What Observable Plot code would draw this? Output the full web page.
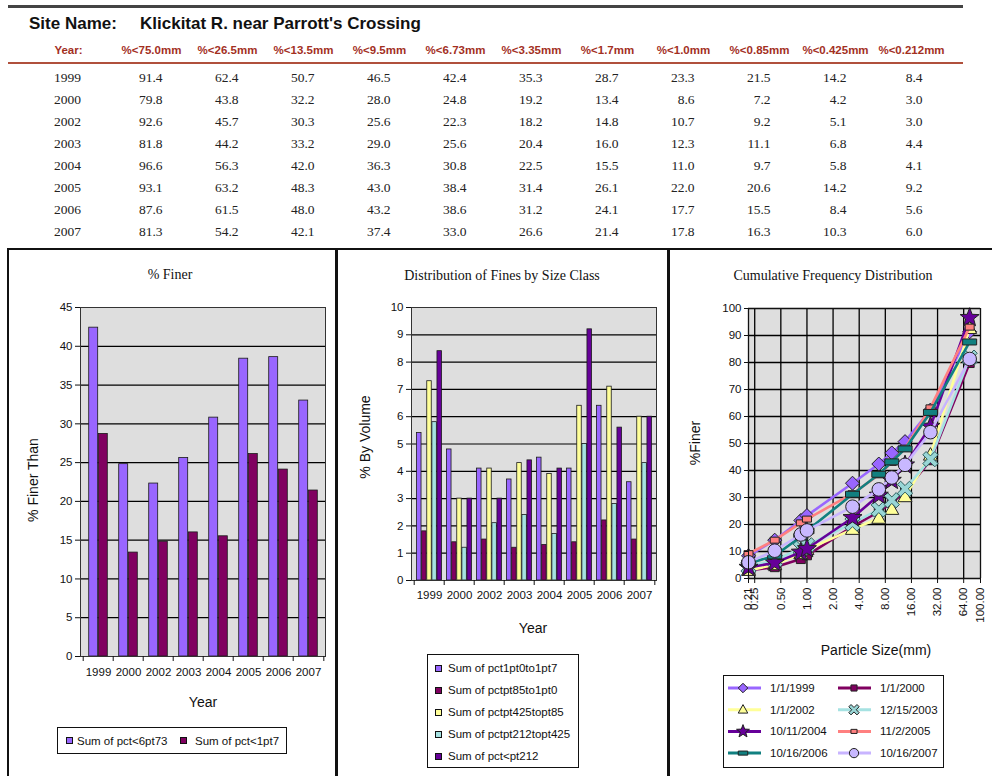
<!DOCTYPE html>
<html>
<head>
<meta charset="utf-8">
<script src="https://cdn.jsdelivr.net/npm/d3@7"></script>
<script src="https://cdn.jsdelivr.net/npm/@observablehq/plot@0.6"></script>
<style>
  html, body { margin: 0; padding: 0; background: #fff; }
  #page { position: relative; width: 992px; height: 776px; overflow: hidden; font-family: Arial, "Liberation Sans", sans-serif; }
  .abs { position: absolute; }
  .line { position: absolute; }
  .ctitle { position: absolute; font-family: "Liberation Serif", "Times New Roman", serif; font-size: 14px; color: #111; transform: translate(-50%, -50%); white-space: nowrap; }
  .atitle { position: absolute; font-size: 14px; color: #111; transform: translate(-50%, -50%); white-space: nowrap; }
  .ytitle { position: absolute; font-size: 14px; color: #111; transform: translate(-50%, -50%) rotate(-90deg); white-space: nowrap; }
  .legend { position: absolute; border: 1px solid #111; background: #fff; font-size: 11.5px; color: #111; }
  .sw { position: absolute; width: 5px; height: 5px; border: 1px solid #111; }
  .lt { position: absolute; white-space: nowrap; transform: translateY(-50%); }
</style>
</head>
<body>
<div id="page"></div>
<script>
// ---------------- DATA ----------------
const siteName = "Klickitat R. near Parrott's Crossing";
const years = ["1999", "2000", "2002", "2003", "2004", "2005", "2006", "2007"];
const sizeLabels = ["%<75.0mm", "%<26.5mm", "%<13.5mm", "%<9.5mm", "%<6.73mm", "%<3.35mm", "%<1.7mm", "%<1.0mm", "%<0.85mm", "%<0.425mm", "%<0.212mm"];
const sizesMm = [75.0, 26.5, 13.5, 9.5, 6.73, 3.35, 1.7, 1.0, 0.85, 0.425, 0.212];

const row1999 = [91.4, 62.4, 50.7, 46.5, 42.4, 35.3, 28.7, 23.3, 21.5, 14.2, 8.4];
const row2000 = [79.8, 43.8, 32.2, 28.0, 24.8, 19.2, 13.4, 8.6, 7.2, 4.2, 3.0];
const row2002 = [92.6, 45.7, 30.3, 25.6, 22.3, 18.2, 14.8, 10.7, 9.2, 5.1, 3.0];
const row2003 = [81.8, 44.2, 33.2, 29.0, 25.6, 20.4, 16.0, 12.3, 11.1, 6.8, 4.4];
const row2004 = [96.6, 56.3, 42.0, 36.3, 30.8, 22.5, 15.5, 11.0, 9.7, 5.8, 4.1];
const row2005 = [93.1, 63.2, 48.3, 43.0, 38.4, 31.4, 26.1, 22.0, 20.6, 14.2, 9.2];
const row2006 = [87.6, 61.5, 48.0, 43.2, 38.6, 31.2, 24.1, 17.7, 15.5, 8.4, 5.6];
const row2007 = [81.3, 54.2, 42.1, 37.4, 33.0, 26.6, 21.4, 17.8, 16.3, 10.3, 6.0];
const tableRows = [row1999, row2000, row2002, row2003, row2004, row2005, row2006, row2007];

// Chart 1: % Finer
const finerSeries = ["Sum of pct<6pt73", "Sum of pct<1pt7"];
const finer673 = [42.4, 24.8, 22.3, 25.6, 30.8, 38.4, 38.6, 33.0];
const finer17 = [28.7, 13.4, 14.8, 16.0, 15.5, 26.1, 24.1, 21.4];

// Chart 2: Distribution of fines by size class
const fineSeries = ["Sum of pct1pt0to1pt7", "Sum of pctpt85to1pt0", "Sum of pctpt425topt85", "Sum of pctpt212topt425", "Sum of pct<pt212"];
const pct1to17 = [5.4, 4.8, 4.1, 3.7, 4.5, 4.1, 6.4, 3.6];
const pct085to1 = [1.8, 1.4, 1.5, 1.2, 1.3, 1.4, 2.2, 1.5];
const pct0425to085 = [7.3, 3.0, 4.1, 4.3, 3.9, 6.4, 7.1, 6.0];
const pct0212to0425 = [5.8, 1.2, 2.1, 2.4, 1.7, 5.0, 2.8, 4.3];
const pctBelow0212 = [8.4, 3.0, 3.0, 4.4, 4.1, 9.2, 5.6, 6.0];

// Chart 3: Cumulative frequency distribution
const cfdDates = ["1/1/1999", "1/1/2000", "1/1/2002", "12/15/2003", "10/11/2004", "11/2/2005", "10/16/2006", "10/16/2007"];
const cfdSizes = [0.212, 0.425, 0.85, 1.0, 3.35, 6.73, 9.5, 13.5, 26.5, 75.0];
const cfdTicks = [0.212, 0.25, 0.5, 1, 2, 4, 8, 16, 32, 64, 100];

// ---------------- STYLES ----------------
const barColors = ["#9966ff", "#800060", "#ffff99", "#a6e2e2", "#660099"];
const cfdLine = ["#9966ff", "#800060", "#ffff99", "#a6e2e2", "#660099", "#ff8080", "#118080", "#c8b4ff"];
const cfdFill = ["#9966ff", "#800060", "#ffff99", "#99d6d6", "#660099", "#ff8080", "#118080", "#c8b8ff"];
const cfdShape = ["diamond", "square", "triangle", "xcross", "star", "smallrect", "widerect", "circle"];
const GREY = "#dedede";
const FONT = "Arial, 'Liberation Sans', sans-serif";
const SERIF = "'Liberation Serif', 'Times New Roman', serif";

const page = document.getElementById("page");
function div(cls, css, html) {
  const d = document.createElement("div");
  if (cls) d.className = cls;
  Object.assign(d.style, css);
  if (html != null) d.textContent = html;
  page.appendChild(d);
  return d;
}
function place(node, left, top) {
  node.style.position = "absolute";
  node.style.left = left + "px";
  node.style.top = top + "px";
  page.appendChild(node);
}

// ---------------- HEADER & TABLE ----------------
div("line", {left: "8px", top: "5px", width: "955px", height: "3px", background: "#444"});
div("abs", {left: "29px", top: "14px", fontSize: "17px", fontWeight: "bold", color: "#111"}, "Site Name:");
div("abs", {left: "140px", top: "14px", fontSize: "17px", fontWeight: "bold", color: "#111"}, siteName);
div("line", {left: "8px", top: "62px", width: "955px", height: "1.5px", background: "#b0503c"});

const cells = [];
tableRows.forEach((row, i) => row.forEach((v, j) => cells.push({year: years[i], col: sizeLabels[j], v})));

const table = Plot.plot({
  width: 992, height: 245,
  marginTop: 0, marginBottom: 0, marginLeft: 0, marginRight: 0,
  style: {background: "transparent", overflow: "visible"},
  x: {type: "point", domain: sizeLabels, range: [149, 913], padding: 0, axis: null},
  y: {type: "point", domain: years, range: [77, 231], padding: 0, axis: null},
  marks: [
    Plot.text(sizeLabels, {x: d => d, frameAnchor: "top", lineAnchor: "middle", dy: 50, text: d => d, fill: "#a3301f", fontWeight: "bold", fontSize: 11.5, fontFamily: FONT}),
    Plot.text(["Year:"], {frameAnchor: "top-left", lineAnchor: "middle", dx: 68, dy: 50, text: d => d, textAnchor: "middle", fill: "#a3301f", fontWeight: "bold", fontSize: 11.5, fontFamily: FONT}),
    Plot.text(years, {y: d => d, frameAnchor: "left", dx: 67, text: d => d, textAnchor: "middle", fontSize: 13.5, fontFamily: SERIF, fill: "#222"}),
    Plot.text(cells, {x: "col", y: "year", text: d => d.v.toFixed(1), textAnchor: "end", dx: 11, fontSize: 13.5, fontFamily: SERIF, fill: "#222"})
  ]
});
place(table, 0, 0);

// ---------------- PANEL BORDERS ----------------
div("line", {left: "7px", top: "248px", width: "985px", height: "2px", background: "#111"});
div("line", {left: "7px", top: "248px", width: "2px", height: "528px", background: "#111"});
div("line", {left: "335px", top: "248px", width: "3px", height: "528px", background: "#111"});
div("line", {left: "667px", top: "248px", width: "3px", height: "528px", background: "#111"});

// helper for grouped bars
function groupedBars(seriesValues, colors, plotWidth, barWidth) {
  const step = plotWidth / years.length;
  const n = seriesValues.length;
  const pad = (step - n * barWidth) / 2;
  return seriesValues.map((vals, s) =>
    Plot.barY(years.map((y, i) => ({year: y, v: vals[i]})), {
      x: "year", y: "v", fill: colors[s], stroke: "#1a1a1a", strokeWidth: 0.8,
      insetLeft: pad + s * barWidth, insetRight: step - pad - (s + 1) * barWidth
    })
  );
}
function boundaryTicks(plotWidth, yLen) {
  const step = plotWidth / years.length;
  return [
    Plot.ruleX(years, {x: d => d, dx: -step / 2, y1: 0, y2: -yLen, stroke: "#111"}),
    Plot.ruleX([years[years.length - 1]], {x: d => d, dx: step / 2, y1: 0, y2: -yLen, stroke: "#111"})
  ];
}

// ---------------- CHART 1 ----------------
{
  const W = 329, H = 526, ml = 73, mr = 11, mt = 57, mb = 120;
  const pw = W - ml - mr, ph = H - mt - mb;
  const chart = Plot.plot({
    width: W, height: H, marginLeft: ml, marginRight: mr, marginTop: mt, marginBottom: mb,
    style: {background: "transparent", fontFamily: FONT, fontSize: "11.5px", color: "#111", overflow: "visible"},
    x: {type: "band", domain: years, padding: 0, label: null},
    y: {domain: [0, 45], label: null},
    marks: [
      Plot.frame({fill: GREY}),
      Plot.gridY({ticks: d3.range(0, 46, 5), stroke: "#000", strokeOpacity: 1, strokeWidth: 1.2}),
      ...groupedBars([finer673, finer17], barColors, pw, 9.6),
      Plot.frame({stroke: "#333"}),
      Plot.axisY({ticks: d3.range(0, 46, 5), tickSize: 5, tickPadding: 3, label: null, stroke: "#111"}),
      Plot.axisX({tickSize: 0, tickPadding: 11, label: null}),
      ...boundaryTicks(pw, 45 * 5 / ph)
    ]
  });
  place(chart, 7, 250);
  div("ctitle", {left: "170px", top: "275px"}, "% Finer");
  div("ytitle", {left: "33px", top: "480px"}, "% Finer Than");
  div("atitle", {left: "203px", top: "702px"}, "Year");
  const lg = div("legend", {left: "57px", top: "727px", width: "228px", height: "25px"});
  const pos = [[8, 19], [122, 137]];
  finerSeries.forEach((s, i) => {
    const sw = document.createElement("div"); sw.className = "sw";
    Object.assign(sw.style, {left: pos[i][0] + "px", top: "9px", background: barColors[i]});
    lg.appendChild(sw);
    const t = document.createElement("div"); t.className = "lt"; t.textContent = s;
    Object.assign(t.style, {left: pos[i][1] + "px", top: "12.5px"});
    lg.appendChild(t);
  });
}

// ---------------- CHART 2 ----------------
{
  const W = 331, H = 526, ml = 74, mr = 12, mt = 57, mb = 196;
  const pw = W - ml - mr, ph = H - mt - mb;
  const chart = Plot.plot({
    width: W, height: H, marginLeft: ml, marginRight: mr, marginTop: mt, marginBottom: mb,
    style: {background: "transparent", fontFamily: FONT, fontSize: "11.5px", color: "#111", overflow: "visible"},
    x: {type: "band", domain: years, padding: 0, label: null},
    y: {domain: [0, 10], label: null},
    marks: [
      Plot.frame({fill: GREY}),
      Plot.gridY({ticks: d3.range(0, 11, 1), stroke: "#000", strokeOpacity: 1, strokeWidth: 1.2}),
      ...groupedBars([pct1to17, pct085to1, pct0425to085, pct0212to0425, pctBelow0212], barColors, pw, 5.1),
      Plot.frame({stroke: "#333"}),
      Plot.axisY({ticks: d3.range(0, 11, 1), tickSize: 5, tickPadding: 3, label: null, stroke: "#111"}),
      Plot.axisX({tickSize: 0, tickPadding: 10, label: null}),
      ...boundaryTicks(pw, 10 * 5 / ph)
    ]
  });
  place(chart, 337, 250);
  div("ctitle", {left: "502px", top: "276px"}, "Distribution of Fines by Size Class");
  div("ytitle", {left: "365px", top: "437px"}, "% By Volume");
  div("atitle", {left: "533px", top: "628px"}, "Year");
  const lg = div("legend", {left: "427px", top: "654px", width: "150px", height: "112px"});
  fineSeries.forEach((s, i) => {
    const cy = 13 + i * 22;
    const sw = document.createElement("div"); sw.className = "sw";
    Object.assign(sw.style, {left: "7px", top: (cy - 3.5) + "px", background: barColors[i]});
    lg.appendChild(sw);
    const t = document.createElement("div"); t.className = "lt"; t.textContent = s;
    Object.assign(t.style, {left: "20px", top: cy + "px"});
    lg.appendChild(t);
  });
}

// ---------------- CHART 3 ----------------
function shapeDraw(name, k) {
  return {
    draw(c) {
      if (name === "diamond") { c.moveTo(0, -7 * k); c.lineTo(7 * k, 0); c.lineTo(0, 7 * k); c.lineTo(-7 * k, 0); c.closePath(); }
      else if (name === "square") { c.moveTo(-4.5 * k, -4.5 * k); c.lineTo(4.5 * k, -4.5 * k); c.lineTo(4.5 * k, 4.5 * k); c.lineTo(-4.5 * k, 4.5 * k); c.closePath(); }
      else if (name === "triangle") { c.moveTo(0, -7.5 * k); c.lineTo(7 * k, 5 * k); c.lineTo(-7 * k, 5 * k); c.closePath(); }
      else if (name === "xcross") {
        const w = 2.3, L = 8.5;
        const pts = [[w, -L], [w, -w], [L, -w], [L, w], [w, w], [w, L], [-w, L], [-w, w], [-L, w], [-L, -w], [-w, -w], [-w, -L]];
        pts.forEach(([x, y], i) => {
          const rx = (x - y) / Math.SQRT2 * k, ry = (x + y) / Math.SQRT2 * k;
          if (i === 0) c.moveTo(rx, ry); else c.lineTo(rx, ry);
        });
        c.closePath();
      }
      else if (name === "star") {
        for (let i = 0; i < 10; i++) {
          const r = (i % 2 === 0 ? 10 : 4.2) * k;
          const a = -Math.PI / 2 + i * Math.PI / 5;
          if (i === 0) c.moveTo(r * Math.cos(a), r * Math.sin(a)); else c.lineTo(r * Math.cos(a), r * Math.sin(a));
        }
        c.closePath();
      }
      else if (name === "smallrect") { c.moveTo(-4.5 * k, -3 * k); c.lineTo(4.5 * k, -3 * k); c.lineTo(4.5 * k, 3 * k); c.lineTo(-4.5 * k, 3 * k); c.closePath(); }
      else if (name === "widerect") { c.moveTo(-7 * k, -3 * k); c.lineTo(7 * k, -3 * k); c.lineTo(7 * k, 3 * k); c.lineTo(-7 * k, 3 * k); c.closePath(); }
      else if (name === "circle") { c.moveTo(6.8 * k, 0); c.arc(0, 0, 6.8 * k, 0, 2 * Math.PI); c.closePath(); }
    }
  };
}
{
  const W = 324, H = 526, ml = 80, mr = 12, mt = 58, mb = 198;
  const ph = H - mt - mb;
  const seriesMarks = [];
  tableRows.forEach((row, s) => {
    const pts = cfdSizes.map(sz => ({size: sz, v: row[sizesMm.indexOf(sz)]}));
    seriesMarks.push(Plot.line(pts, {x: "size", y: "v", stroke: cfdLine[s], strokeWidth: 2.6}));
    seriesMarks.push(Plot.dot(pts, {x: "size", y: "v", symbol: shapeDraw(cfdShape[s], 1), fill: cfdFill[s], stroke: s === 3 ? "#2f5f5f" : "#222", strokeWidth: 1}));
  });
  const chart = Plot.plot({
    width: W, height: H, marginLeft: ml, marginRight: mr, marginTop: mt, marginBottom: mb,
    style: {background: "transparent", fontFamily: FONT, fontSize: "11.5px", color: "#111", overflow: "visible"},
    x: {type: "log", domain: [0.212, 100], label: null, axis: null},
    y: {domain: [0, 100], label: null},
    marks: [
      Plot.frame({fill: GREY}),
      Plot.ruleX(cfdTicks, {x: d => d, stroke: "#000", strokeWidth: 1.3}),
      Plot.gridY({ticks: d3.range(0, 101, 10), stroke: "#000", strokeOpacity: 1, strokeWidth: 1.3}),
      ...seriesMarks,
      Plot.frame({stroke: "#111"}),
      Plot.axisY({ticks: d3.range(0, 101, 10), tickSize: 4, tickPadding: 3, label: null, stroke: "#111"}),
      Plot.ruleX(cfdTicks, {x: d => d, y1: 0, y2: -100 * 5 / ph, stroke: "#111"}),
      Plot.text(cfdTicks, {x: d => d, frameAnchor: "bottom", dy: 9, rotate: -90, textAnchor: "end", lineAnchor: "middle", text: d => d.toFixed(2), fontSize: 11.5, fill: "#111"})
    ]
  });
  place(chart, 668, 250);
  div("ctitle", {left: "833px", top: "276px"}, "Cumulative Frequency Distribution");
  div("ytitle", {left: "695px", top: "443px"}, "%Finer");
  div("atitle", {left: "876px", top: "650px"}, "Particle Size(mm)");

  // legend
  const lg = div("legend", {left: "723px", top: "675px", width: "219px", height: "91px"});
  const svg = d3.create("svg").attr("width", 219).attr("height", 91).style("position", "absolute").style("left", 0).style("top", 0);
  const colX = [[4, 37, 19, 46], [114, 147, 130, 156]];
  cfdDates.forEach((d, s) => {
    const col = s % 2, row = Math.floor(s / 2);
    const cy = 12 + row * 21.7;
    const [x1, x2, mx, tx] = colX[col];
    svg.append("line").attr("x1", x1).attr("x2", x2).attr("y1", cy).attr("y2", cy).attr("stroke", cfdLine[s]).attr("stroke-width", 3);
    const p = d3.path(); shapeDraw(cfdShape[s], 0.68).draw(p);
    svg.append("path").attr("d", p.toString()).attr("transform", `translate(${mx},${cy})`).attr("fill", cfdFill[s]).attr("stroke", "#222").attr("stroke-width", 1);
    svg.append("text").attr("x", tx).attr("y", cy).attr("dy", "0.35em").attr("font-size", 11.5).attr("font-family", FONT).attr("fill", "#111").text(d);
  });
  lg.appendChild(svg.node());
}
</script>
</body>
</html>
